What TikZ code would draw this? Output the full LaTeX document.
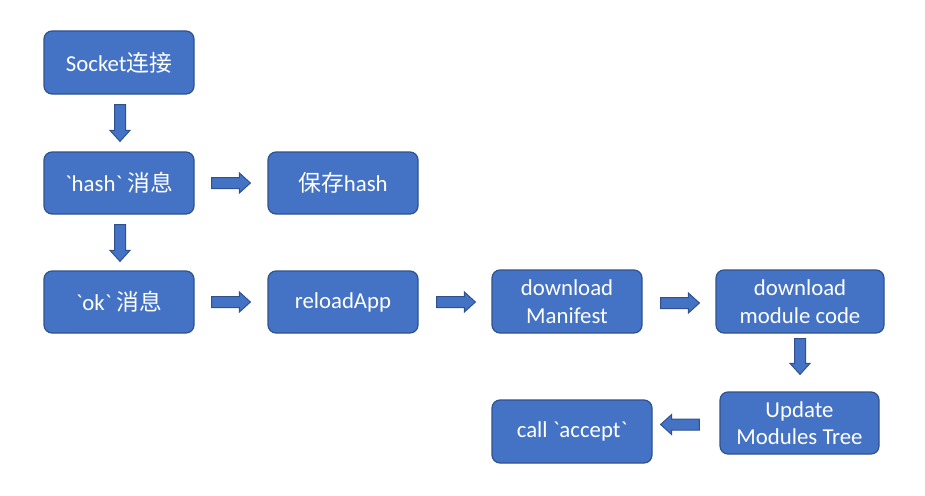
\documentclass[tikz,border=0pt]{standalone}
\usepackage{fontspec}
\newfontfamily\carl{Carlito}
\newfontfamily\cjk{Noto Sans CJK SC}
\usetikzlibrary{calc}
\definecolor{boxfill}{HTML}{4472C4}
\definecolor{boxline}{HTML}{2F528F}
\tikzset{
  box/.style={rectangle, rounded corners=8pt, fill=boxfill, draw=boxline, line width=1.2pt,
    text=white, align=center, inner sep=0pt, font=\carl\fontsize{22.8}{27.5}\selectfont},
  blockarr/.style={fill=boxfill, draw=boxline, line width=1pt, line join=miter}
}
\newcommand\barrow[2]{%
  \coordinate (hb) at ($(#2)!11pt!(#1)$);
  \filldraw[blockarr] ($(#1)!5.5pt!90:(#2)$) -- ($(hb)!5.5pt!-90:(#1)$) -- ($(hb)!10pt!-90:(#1)$) -- (#2)
    -- ($(hb)!10pt!90:(#1)$) -- ($(hb)!5.5pt!90:(#1)$) -- ($(#1)!5.5pt!-90:(#2)$) -- cycle;%
}
\begin{document}
\begin{tikzpicture}[x=1pt,y=-1pt]
\useasboundingbox (0,0) rectangle (925,495);
\node[box, minimum width=150pt, minimum height=63pt] (sock) at (119,62.5) {Socket{\cjk 连接}};
\node[box, minimum width=150pt, minimum height=62pt] (hash) at (119,183) {`hash` {\cjk 消息}};
\node[box, minimum width=150pt, minimum height=62pt] (save) at (343,183) {{\cjk 保存}hash};
\node[box, minimum width=150pt, minimum height=62pt] (ok) at (119,302) {`ok` {\cjk 消息}};
\node[box, minimum width=150pt, minimum height=62pt] (reload) at (343,302) {reloadApp};
\node[box, minimum width=150pt, minimum height=63pt] (mani) at (567,301.5) {download\\Manifest};
\node[box, minimum width=168pt, minimum height=63pt] (code) at (800,301.5) {download\\module code};
\node[box, minimum width=159pt, minimum height=62pt] (upd) at (799.5,423) {Update\\Modules Tree};
\node[box, minimum width=160pt, minimum height=63pt] (call) at (572,431.5) {call `accept`};

\coordinate (a1s) at ($(sock.south)+(1,10)$);
\coordinate (a1e) at ($(hash.north)+(1,-10)$);
\coordinate (a2s) at ($(hash.south)+(1,10)$);
\coordinate (a2e) at ($(ok.north)+(1,-9)$);
\coordinate (a3s) at ($(hash.east)+(17,0)$);
\coordinate (a3e) at ($(save.west)+(-17,0)$);
\coordinate (a4s) at ($(ok.east)+(17,0)$);
\coordinate (a4e) at ($(reload.west)+(-17,0)$);
\coordinate (a5s) at ($(reload.east)+(18,0)$);
\coordinate (a5e) at ($(mani.west)+(-16,0.5)$);
\coordinate (a6s) at ($(mani.east)+(18,1.5)$);
\coordinate (a6e) at ($(code.west)+(-16,1.5)$);
\coordinate (a7s) at ($(code.south)+(0,5)$);
\coordinate (a7e) at ($(upd.north)+(0.5,-17)$);
\coordinate (a8s) at ($(upd.west)+(-20,1.5)$);
\coordinate (a8e) at ($(call.east)+(8,-7)$);
\barrow{a1s}{a1e}
\barrow{a2s}{a2e}
\barrow{a3s}{a3e}
\barrow{a4s}{a4e}
\barrow{a5s}{a5e}
\barrow{a6s}{a6e}
\barrow{a7s}{a7e}
\barrow{a8s}{a8e}
\end{tikzpicture}
\end{document}
